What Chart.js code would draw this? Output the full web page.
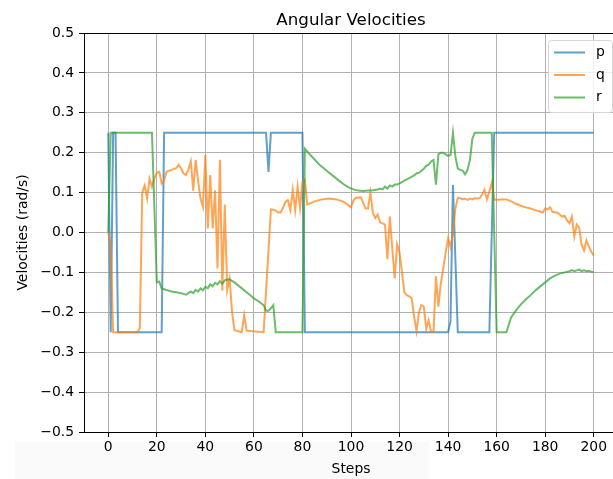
<!DOCTYPE html>
<html>
<head>
<meta charset="utf-8">
<script src="https://cdn.jsdelivr.net/npm/chart.js@4/dist/chart.umd.min.js"></script>
<style>
html,body{margin:0;padding:0;overflow:hidden;background:#fff;width:613px;height:479px;}
#shade{position:absolute;left:15px;top:442px;width:414px;height:37px;background:#fafafa;z-index:0;}
#c{position:absolute;left:0;top:0;z-index:1;}
</style>
</head>
<body>
<div id="shade"></div>
<canvas id="c" width="640" height="479"></canvas>
<script>
const chartTitle = 'Angular Velocities';
const xAxisLabel = 'Steps';
const yAxisLabel = 'Velocities (rad/s)';
const seriesNames = ['p', 'q', 'r'];
const xTickValues = [0, 20, 40, 60, 80, 100, 120, 140, 160, 180, 200];
const yTickValues = [-0.5, -0.4, -0.3, -0.2, -0.1, 0, 0.1, 0.2, 0.3, 0.4, 0.5];

const pSteps = [0, 1, 2, 3, 4, 22, 23, 65, 66, 67, 80, 81, 140, 141, 142, 144, 157, 159, 200];
const pValues = [0.25, -0.25, 0.25, 0.25, -0.25, -0.25, 0.25, 0.25, 0.152, 0.25, 0.25, -0.25, -0.25, -0.222, 0.119, -0.25, -0.25, 0.25, 0.25];

const qSteps = [0, 1, 2, 12, 13, 14, 15, 16, 17, 18, 19, 20, 21, 22, 23, 24, 26, 28, 29, 30, 31, 32, 33, 34, 35, 36, 37, 38, 39, 40,
  41, 42, 43, 44, 45, 46, 47, 48, 49, 50, 51, 52, 55, 56, 57, 64, 67, 68, 69, 70, 71, 72, 73, 74, 75, 76, 77, 78, 79, 80,
  81, 82, 85, 88, 91, 94, 97, 99, 100, 101, 102, 104, 105, 106, 107, 108, 109, 110, 111, 112, 113, 114, 115, 116, 117, 118, 119, 120,
  121, 122, 123, 124, 125, 126, 127, 128, 129, 130, 131, 132, 133, 134, 135, 136, 137, 138, 139, 140, 141, 142, 143, 144,
  145, 146, 147, 148, 149, 150, 151, 152, 153, 154, 155, 156, 157, 158, 159, 160, 162, 164, 166, 168, 170, 172, 174, 176,
  178, 179, 180, 181, 182, 183, 184, 185, 186, 187, 188, 189, 190, 191, 192, 193, 194, 195, 196, 197, 198, 199, 200];
const qValues = [0, -0.03, -0.25, -0.25, -0.24, 0.1, 0.118, 0.085, 0.135, 0.115, 0.136, 0.15, 0.152, 0.123, 0.131, 0.152, 0.157, 0.161, 0.17, 0.161, 0.148, 0.144, 0.157, 0.178, 0.105, 0.182, 0.13, 0.085, 0.064, 0.194,
  0.01, 0.144, 0.01, 0.106, -0.09, 0.182, -0.146, 0.07, -0.144, -0.115, -0.2, -0.245, -0.25, -0.207, -0.246, -0.25, 0.058, 0.057, 0.055, 0.05, 0.05, 0.062, 0.077, 0.081, 0.056, 0.107, 0.056, 0.115, 0.061, 0.127,
  0.132, 0.07, 0.078, 0.083, 0.085, 0.083, 0.077, 0.068, 0.063, 0.08, 0.087, 0.088, 0.075, 0.06, 0.06, 0.1, 0.05, 0.036, 0.045, 0.025, 0.023, 0.02, -0.067, 0.04, -0.04, -0.115, -0.03, -0.05,
  -0.1, -0.15, -0.157, -0.16, -0.165, -0.21, -0.247, -0.2, -0.182, -0.186, -0.242, -0.22, -0.249, -0.249, -0.11, -0.186, -0.128, -0.09, -0.05, -0.015, -0.036, -0.004, 0.06, 0.087,
  0.086, 0.083, 0.085, 0.082, 0.085, 0.083, 0.086, 0.085, 0.086, 0.095, 0.107, 0.083, 0.103, 0.125, 0.082, 0.082, 0.083, 0.083, 0.078, 0.072, 0.067, 0.063, 0.06, 0.056,
  0.052, 0.05, 0.06, 0.058, 0.063, 0.052, 0.05, 0.05, 0.045, 0.04, 0.042, 0.03, 0.023, 0.04, -0.01, 0.02, 0.012, -0.03, -0.045, -0.02, -0.035, -0.048, -0.058];

const rSteps = [0, 1, 18, 20, 21, 22, 24, 26, 28, 30, 32, 33, 34, 35, 36, 37, 38, 39, 40, 41, 42, 43, 44, 45, 46, 47, 48, 49, 50, 52,
  54, 56, 58, 60, 62, 64, 65, 66, 67, 68, 69, 80, 81, 83, 85, 87, 89, 91, 93, 95, 97, 99, 101, 103, 105, 107, 109, 111, 112, 113,
  114, 115, 116, 117, 118, 119, 120, 122, 124, 126, 127, 128, 129, 130, 131, 132, 133, 134, 135, 136, 137, 138, 139, 140, 141, 142, 143, 144,
  145, 146, 147, 148, 149, 150, 151, 158, 160, 164, 166, 168, 170, 172, 174, 176, 178, 180, 182, 184, 186, 188, 190, 191, 192, 193,
  194, 195, 196, 197, 198, 199, 200];
const rValues = [0, 0.25, 0.25, -0.125, -0.123, -0.14, -0.144, -0.148, -0.15, -0.152, -0.156, -0.152, -0.148, -0.152, -0.144, -0.148, -0.14, -0.145, -0.136, -0.14, -0.13, -0.135, -0.126, -0.13, -0.122, -0.128, -0.12, -0.118, -0.118, -0.125,
  -0.135, -0.145, -0.155, -0.165, -0.173, -0.182, -0.196, -0.196, -0.19, -0.182, -0.25, -0.25, 0.21, 0.196, 0.183, 0.17, 0.16, 0.15, 0.14, 0.13, 0.121, 0.113, 0.108, 0.105, 0.104, 0.105, 0.106, 0.108, 0.11, 0.108,
  0.115, 0.11, 0.118, 0.115, 0.12, 0.12, 0.123, 0.13, 0.136, 0.143, 0.148, 0.15, 0.155, 0.16, 0.167, 0.17, 0.178, 0.182, 0.12, 0.196, 0.2, 0.2, 0.196, 0.192, 0.194, 0.25, 0.19, 0.16,
  0.157, 0.155, 0.146, 0.157, 0.182, 0.235, 0.25, 0.25, -0.25, -0.25, -0.212, -0.195, -0.18, -0.168, -0.157, -0.145, -0.135, -0.125, -0.115, -0.108, -0.103, -0.1, -0.097, -0.094, -0.097, -0.095,
  -0.093, -0.097, -0.095, -0.097, -0.096, -0.098, -0.1];

const seriesColors = ['rgba(31,119,180,0.7)', 'rgba(255,127,14,0.7)', 'rgba(44,160,44,0.7)'];
const FONT = 'DejaVu Sans';

function pts(steps, vals) { return steps.map((s, i) => ({ x: s, y: vals[i] })); }
function fmtY(v) {
  const r = Math.round(v * 10) / 10;
  return (r < 0 ? '\u2212' : '') + Math.abs(r).toFixed(1);
}

const framePlugin = {
  id: 'frameTitleLegend',
  afterDatasetsDraw(chart) {
    const ctx = chart.ctx, a = chart.chartArea;
    ctx.save();
    ctx.strokeStyle = '#000';
    ctx.lineWidth = 1;
    ctx.strokeRect(Math.round(a.left) + 0.5, Math.round(a.top) + 0.5, Math.round(a.right - a.left), Math.round(a.bottom - a.top));
    ctx.restore();
  },
  afterDraw(chart) {
    const ctx = chart.ctx, a = chart.chartArea;
    ctx.save();
    ctx.fillStyle = '#000';
    ctx.font = '16.7px "' + FONT + '"';
    ctx.textAlign = 'center';
    ctx.textBaseline = 'alphabetic';
    ctx.fillText(chartTitle, (a.left + a.right) / 2, a.top - 8.3);
    const bx = 548.5, by = 40.5, bw = 64, bh = 72, r = 3;
    ctx.beginPath();
    ctx.moveTo(bx + r, by);
    ctx.lineTo(bx + bw - r, by);
    ctx.arcTo(bx + bw, by, bx + bw, by + r, r);
    ctx.lineTo(bx + bw, by + bh - r);
    ctx.arcTo(bx + bw, by + bh, bx + bw - r, by + bh, r);
    ctx.lineTo(bx + r, by + bh);
    ctx.arcTo(bx, by + bh, bx, by + bh - r, r);
    ctx.lineTo(bx, by + r);
    ctx.arcTo(bx, by, bx + r, by, r);
    ctx.closePath();
    ctx.fillStyle = 'rgba(255,255,255,0.8)';
    ctx.fill();
    ctx.strokeStyle = '#d6d6d6';
    ctx.lineWidth = 1;
    ctx.stroke();
    ctx.font = '13.9px "' + FONT + '"';
    ctx.textAlign = 'left';
    ctx.textBaseline = 'middle';
    chart.data.datasets.forEach((ds, i) => {
      const y = 52.5 + i * 22.5;
      ctx.strokeStyle = ds.borderColor;
      ctx.lineWidth = 2;
      ctx.beginPath();
      ctx.moveTo(554, y);
      ctx.lineTo(585, y);
      ctx.stroke();
      ctx.fillStyle = '#000';
      ctx.fillText(ds.label, 596, y);
    });
    ctx.restore();
  }
};

const datasetsSrc = [[pSteps, pValues], [qSteps, qValues], [rSteps, rValues]];

new Chart(document.getElementById('c'), {
  type: 'line',
  data: {
    datasets: datasetsSrc.map((d, i) => ({
      label: seriesNames[i],
      data: pts(d[0], d[1]),
      borderColor: seriesColors[i],
      backgroundColor: seriesColors[i],
      borderWidth: 2,
      pointRadius: 0,
      tension: 0,
      fill: false,
      order: 2 - i
    }))
  },
  options: {
    responsive: false,
    animation: false,
    devicePixelRatio: 1,
    layout: { padding: { left: 0, top: 33, right: 22, bottom: 0 } },
    plugins: { legend: { display: false }, title: { display: false }, tooltip: { enabled: false } },
    scales: {
      x: {
        type: 'linear', min: -10, max: 210,
        afterBuildTicks: (s) => { s.ticks = xTickValues.map(v => ({ value: v })); },
        afterFit: (s) => { s.height = 47; },
        grid: { color: '#b0b0b0', lineWidth: 1, tickColor: '#000', tickLength: 5, tickWidth: 1 },
        border: { display: false },
        ticks: { color: '#000', font: { family: FONT, size: 13.9 }, padding: 2, autoSkip: false, maxRotation: 0,
          callback: (v) => String(v) },
        title: { display: true, text: xAxisLabel, color: '#000', font: { family: FONT, size: 13.9 }, padding: { top: 0, bottom: 1.5 } }
      },
      y: {
        type: 'linear', min: -0.5, max: 0.5,
        afterBuildTicks: (s) => { s.ticks = yTickValues.map(v => ({ value: v })); },
        afterFit: (s) => { s.width = 84; },
        grid: { color: '#b0b0b0', lineWidth: 1, tickColor: '#000', tickLength: 5, tickWidth: 1 },
        border: { display: false },
        ticks: { color: '#000', font: { family: FONT, size: 13.9 }, padding: 5, autoSkip: false,
          callback: (v) => fmtY(v) },
        title: { display: true, text: yAxisLabel, color: '#000', font: { family: FONT, size: 13.9 }, padding: { top: 15, bottom: 0 } }
      }
    }
  },
  plugins: [framePlugin]
});
</script>
</body>
</html>
